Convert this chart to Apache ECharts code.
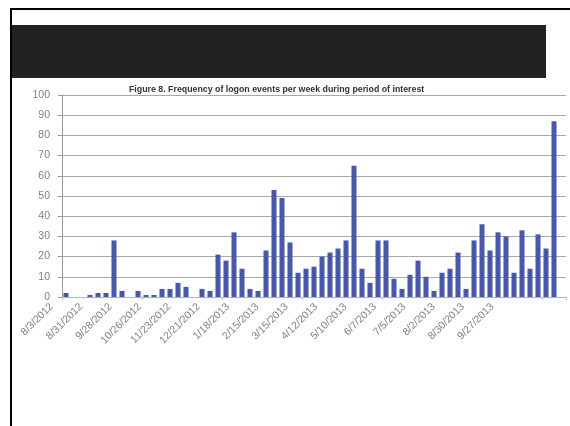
<!DOCTYPE html>
<html>
<head>
<meta charset="utf-8">
<title>Logon events per week</title>
<script src="https://cdn.jsdelivr.net/npm/echarts@6/dist/echarts.min.js"></script>
<style>
  html, body { margin: 0; padding: 0; background: #fff; }
  #chart { width: 570px; height: 426px; }
</style>
</head>
<body>
<div id="chart"></div>
<script>
// Week-ending dates, one per bar
var weeks = [
  '8/3/2012', '8/10/2012', '8/17/2012', '8/24/2012', '8/31/2012', '9/7/2012', '9/14/2012', '9/21/2012',
  '9/28/2012', '10/5/2012', '10/12/2012', '10/19/2012', '10/26/2012', '11/2/2012', '11/9/2012', '11/16/2012',
  '11/23/2012', '11/30/2012', '12/7/2012', '12/14/2012', '12/21/2012', '12/28/2012', '1/4/2013', '1/11/2013',
  '1/18/2013', '1/25/2013', '2/1/2013', '2/8/2013', '2/15/2013', '2/22/2013', '3/1/2013', '3/8/2013',
  '3/15/2013', '3/22/2013', '3/29/2013', '4/5/2013', '4/12/2013', '4/19/2013', '4/26/2013', '5/3/2013',
  '5/10/2013', '5/17/2013', '5/24/2013', '5/31/2013', '6/7/2013', '6/14/2013', '6/21/2013', '6/28/2013',
  '7/5/2013', '7/12/2013', '7/19/2013', '7/26/2013', '8/2/2013', '8/9/2013', '8/16/2013', '8/23/2013',
  '8/30/2013', '9/6/2013', '9/13/2013', '9/20/2013', '9/27/2013', '10/4/2013', '10/11/2013'
];

// Logon events counted in each week
var logonCounts = [
  2, 0, 0, 1, 2, 2, 28, 3,
  0, 3, 1, 1, 4, 4, 7, 5,
  0, 4, 3, 21, 18, 32, 14, 4,
  3, 23, 53, 49, 27, 12, 14, 15,
  20, 22, 24, 28, 65, 14, 7, 28,
  28, 9, 4, 11, 18, 10, 3, 12,
  14, 22, 4, 28, 36, 23, 32, 30,
  12, 33, 14, 31, 24, 87
];

// Dates printed along the bottom axis (every fourth week)
var tickLabels = [
  '8/3/2012', '8/31/2012', '9/28/2012', '10/26/2012', '11/23/2012', '12/21/2012',
  '1/18/2013', '2/15/2013', '3/15/2013', '4/12/2013', '5/10/2013', '6/7/2013',
  '7/5/2013', '8/2/2013', '8/30/2013', '9/27/2013'
];

var yTicks = { min: 0, max: 100, step: 10 };

var titleText = 'Figure 8. Frequency of logon events per week during period of interest';

var chart = echarts.init(document.getElementById('chart'), null, { renderer: 'canvas' });

chart.setOption({
  animation: false,
  backgroundColor: '#ffffff',
  textStyle: { fontFamily: 'Liberation Sans, Arial, sans-serif' },
  title: {
    text: titleText,
    left: 124,
    top: 80,
    textStyle: { fontSize: 8.8, fontWeight: 'bold', color: '#333333' }
  },
  graphic: [
    // slide frame: top rule and left rule
    { type: 'rect', shape: { x: 10, y: 8, width: 560, height: 2 }, style: { fill: '#000000' }, silent: true },
    { type: 'rect', shape: { x: 10, y: 8, width: 2, height: 418 }, style: { fill: '#000000' }, silent: true },
    // slide heading band
    { type: 'rect', shape: { x: 12, y: 25, width: 534, height: 53 }, style: { fill: '#222222' }, silent: true }
  ],
  grid: [
    { left: 62, right: 4, top: 95, bottom: 129 },
    { left: 37, width: 470, top: 95, bottom: 129 }
  ],
  xAxis: [
    {
      type: 'category',
      gridIndex: 0,
      data: weeks,
      boundaryGap: true,
      axisLine: { show: true, lineStyle: { color: '#a9b3d3', width: 1 } },
      axisTick: { show: true, length: 3, lineStyle: { color: '#b5bdd8' } },
      axisLabel: { show: false },
      splitLine: { show: false }
    },
    {
      type: 'category',
      gridIndex: 1,
      data: tickLabels,
      boundaryGap: true,
      axisLine: { show: false },
      axisTick: { show: false },
      axisLabel: {
        rotate: 45,
        margin: 8,
        fontSize: 10.5,
        color: '#808080',
        interval: 0
      },
      splitLine: { show: false }
    }
  ],
  yAxis: [
    {
      type: 'value',
      gridIndex: 0,
      min: yTicks.min,
      max: yTicks.max,
      interval: yTicks.step,
      axisLine: { show: true, lineStyle: { color: '#999999', width: 1 } },
      axisTick: { show: true, length: 4, lineStyle: { color: '#999999' } },
      axisLabel: { fontSize: 10.5, color: '#808080', margin: 12 },
      splitLine: { show: true, lineStyle: { color: '#a8a8a8', width: 1 } }
    },
    {
      type: 'value',
      gridIndex: 1,
      min: yTicks.min,
      max: yTicks.max,
      show: false
    }
  ],
  series: [
    {
      name: 'Logon events',
      type: 'bar',
      xAxisIndex: 0,
      yAxisIndex: 0,
      data: logonCounts,
      barWidth: 5,
      itemStyle: { color: '#4557b0' }
    }
  ]
});
</script>
</body>
</html>
